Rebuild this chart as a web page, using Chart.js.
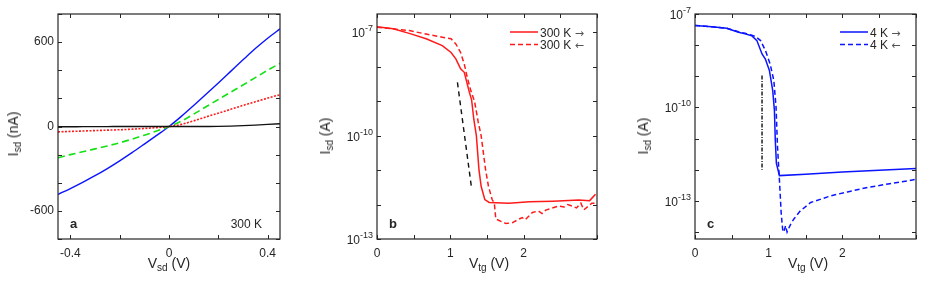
<!DOCTYPE html>
<html>
<head>
<meta charset="utf-8">
<script src="https://cdn.jsdelivr.net/npm/chart.js@4.4.1/dist/chart.umd.min.js"></script>
<style>
  body { margin: 0; background: #fff; font-family: "Liberation Sans", Arial, sans-serif; color: #262626; }
  #wrap { position: relative; width: 926px; height: 282px; overflow: hidden; }
  canvas { position: absolute; top: 0; }
  .xt { position: absolute; font-size: 14px; white-space: nowrap; transform: translateX(-50%); }
  .yt { position: absolute; font-size: 14px; white-space: nowrap; transform: translate(-50%, -50%) rotate(-90deg); }
  sub { font-size: 10px; vertical-align: -3px; line-height: 0; }
</style>
</head>
<body>
<div id="wrap">
  <canvas id="chartA" width="300" height="282" style="left:0"></canvas>
  <canvas id="chartB" width="300" height="282" style="left:310px"></canvas>
  <canvas id="chartC" width="306" height="282" style="left:620px"></canvas>

  <div class="yt" style="left:13px;top:134px">I<sub>sd</sub> (nA)</div>
  <div class="xt" style="left:169px;top:255px">V<sub>sd</sub> (V)</div>
  <div class="yt" style="left:325px;top:136px">I<sub>sd</sub> (A)</div>
  <div class="xt" style="left:489px;top:255px">V<sub>tg</sub> (V)</div>
  <div class="yt" style="left:643px;top:136px">I<sub>sd</sub> (A)</div>
  <div class="xt" style="left:808px;top:255px">V<sub>tg</sub> (V)</div>
</div>

<script>
// ---- panel a : I-V curves at 300 K (nA) ----
var aV     = [-0.45, -0.4, -0.35, -0.3, -0.25, -0.2, -0.15, -0.1, -0.05, 0, 0.05, 0.1, 0.15, 0.2, 0.25, 0.3, 0.35, 0.4, 0.45];
var aBlue  = [-483, -441, -397, -350, -299, -244, -186, -125, -63, 0, 72, 150, 230, 310, 392, 474, 554, 628, 694];
var aGreen = [-222, -200, -180, -159, -138, -116, -90, -62, -32, 0, 38, 88, 140, 192, 244, 295, 348, 400, 449];
var aRed   = [-38, -35, -32, -29, -26, -23, -19, -14, -8, 0, 15, 40, 68, 95, 122, 150, 176, 202, 226];
var aBlack = [-2, -2, -1, -1, -1, 0, 0, 0, 0, 0, 0, 0, 0, 1, 3, 6, 10, 15, 20];

var aXTicks  = [-0.4, -0.2, 0, 0.2, 0.4];
var aXLabels = ['-0.4', '', '0', '', '0.4'];
var aYTicks  = [-800, -600, -400, -200, 0, 200, 400, 600, 800];
var aYLabels = ['', '-600', '', '', '0', '', '', '600', ''];

// ---- panel b : transfer curves at 300 K (A) ----
var bFwdV = [0, 0.22, 0.44, 0.67, 0.89, 1.01, 1.075, 1.14, 1.19, 1.26, 1.29, 1.32, 1.355, 1.39, 1.42, 1.47, 1.53, 1.8, 2.08, 2.4, 2.75, 2.9, 2.98];
var bFwdI = [1.45e-7, 1.26e-7, 9.3e-8, 6.5e-8, 4.1e-8, 2.6e-8, 1.7e-8, 8.7e-9, 6.9e-9, 1.8e-9, 1.1e-9, 3.0e-10, 1.0e-10, 1.05e-11, 3.4e-12, 1.4e-12, 1.15e-12, 1.1e-12, 1.2e-12, 1.25e-12, 1.35e-12, 1.3e-12, 2.0e-12];
var bBwdV = [0, 0.22, 0.44, 0.67, 0.89, 1.01, 1.075, 1.14, 1.19, 1.23, 1.28, 1.33, 1.38, 1.42, 1.48, 1.52, 1.57, 1.6, 1.62, 1.76, 1.85, 1.94, 1.98, 2.02, 2.12, 2.2, 2.25, 2.3, 2.48, 2.55, 2.6, 2.66, 2.72, 2.78, 2.82, 2.93, 2.98];
var bBwdI = [1.4e-7, 1.26e-7, 1.12e-7, 8.9e-8, 7.2e-8, 6.5e-8, 4.6e-8, 2.6e-8, 1.2e-8, 5.0e-9, 2.0e-9, 1.0e-9, 2.5e-10, 1.0e-10, 1.05e-11, 3.4e-12, 1.4e-12, 1.1e-12, 3.8e-13, 2.8e-13, 3.0e-13, 3.8e-13, 4.2e-13, 3.6e-13, 5.9e-13, 6.5e-13, 5.5e-13, 6.9e-13, 9.1e-13, 8.5e-13, 1.0e-12, 9.1e-13, 8.0e-13, 1.1e-12, 7.0e-13, 1.1e-12, 1.1e-12];
var bRefV = [1.097, 1.287];
var bRefI = [3.5e-9, 3.3e-12];

// ---- panel c : transfer curves at 4 K (A) ----
var cFwdV = [0, 0.23, 0.43, 0.59, 0.68, 0.77, 0.84, 0.91, 0.955, 1.01, 1.055, 1.078, 1.09, 1.105, 1.146, 1.5, 2.0, 2.5, 3.0];
var cFwdI = [4.3e-8, 3.9e-8, 3.5e-8, 2.6e-8, 2.3e-8, 2.0e-8, 1.4e-8, 5.2e-9, 3.6e-9, 1.55e-9, 3.5e-10, 8.1e-11, 8.9e-12, 1.6e-12, 6.5e-13, 7.2e-13, 8.5e-13, 9.7e-13, 1.1e-12];
var cBwdV = [0, 0.23, 0.43, 0.59, 0.68, 0.77, 0.82, 0.89, 0.955, 1.02, 1.07, 1.1, 1.12, 1.146, 1.17, 1.19, 1.205, 1.23, 1.25, 1.27, 1.3, 1.34, 1.43, 1.57, 1.84, 2.07, 2.34, 2.62, 2.89, 3.0];
var cBwdI = [4.3e-8, 3.9e-8, 3.5e-8, 2.7e-8, 2.4e-8, 2.1e-8, 1.9e-8, 1.4e-8, 6.8e-9, 2.5e-9, 7.4e-10, 1.05e-10, 5.5e-12, 4.7e-13, 4.1e-14, 1.2e-14, 1.0e-14, 1.6e-14, 1.0e-14, 1.3e-14, 1.8e-14, 2.6e-14, 4.8e-14, 8.9e-14, 1.45e-13, 1.95e-13, 2.7e-13, 3.5e-13, 4.4e-13, 5.0e-13];
var cRefV = [0.91, 0.91];
var cRefI = [1.07e-9, 1.0e-12];

var gateTicks  = [0, 0.5, 1, 1.5, 2, 2.5, 3];
var gateLabels = ['0', '', '1', '', '2', '', ''];
var bYTicks  = [1e-13, 1e-12, 1e-11, 1e-10, 1e-9, 1e-8, 1e-7];
var bYLabels = ['10^-13', '', '', '10^-10', '', '', '10^-7'];
var cYTicks  = [1e-14, 1e-13, 1e-12, 1e-11, 1e-10, 1e-9, 1e-8, 1e-7];
var cYLabels = ['', '10^-13', '', '', '10^-10', '', '', '10^-7'];

var textColor = '#262626';
var fontName = '"Liberation Sans", Arial, sans-serif';
Chart.defaults.font.family = fontName;
Chart.defaults.font.size = 12;
Chart.defaults.color = textColor;

function pts(xs, ys) {
    return xs.map(function(x, i) { return { x: x, y: ys[i] }; });
}

function line(label, xs, ys, color, dash, width, smooth) {
    return {
        label: label,
        data: pts(xs, ys),
        borderColor: color,
        borderDash: dash || [],
        borderWidth: width || 1.4,
        pointRadius: 0,
        fill: false,
        cubicInterpolationMode: smooth ? 'monotone' : 'default',
        tension: 0
    };
}

// draws the MATLAB style box, inward ticks, power labels, panel letter and legend
var boxPlugin = {
    id: 'box',
    afterDatasetsDraw: function(chart, args, opts) {
        var ctx = chart.ctx, a = chart.chartArea;
        var xs = chart.scales.x, ys = chart.scales.y;
        ctx.save();

        ctx.strokeStyle = textColor;
        ctx.lineWidth = 1;
        ctx.setLineDash([]);
        ctx.beginPath();
        xs.ticks.forEach(function(t) {
            var px = Math.round(xs.getPixelForValue(t.value)) + 0.5;
            ctx.moveTo(px, a.bottom); ctx.lineTo(px, a.bottom - 4);
            ctx.moveTo(px, a.top); ctx.lineTo(px, a.top + 4);
        });
        ys.ticks.forEach(function(t) {
            var py = Math.round(ys.getPixelForValue(t.value)) + 0.5;
            ctx.moveTo(a.left, py); ctx.lineTo(a.left + 4, py);
            ctx.moveTo(a.right, py); ctx.lineTo(a.right - 4, py);
        });
        ctx.stroke();
        ctx.lineWidth = 1.2;
        ctx.strokeRect(a.left, a.top, a.right - a.left, a.bottom - a.top);

        ctx.fillStyle = textColor;
        ctx.textBaseline = 'alphabetic';

        // 10^n labels on log axes
        if (opts.powLabels) {
            ys.ticks.forEach(function(t, i) {
                var lab = opts.powLabels[i];
                if (!lab) return;
                var parts = lab.split('^');
                var py = ys.getPixelForValue(t.value);
                var xr = a.left - 4;
                ctx.textAlign = 'right';
                ctx.font = '9px ' + fontName;
                var ew = ctx.measureText(parts[1]).width;
                ctx.fillText(parts[1], xr, py - 1);
                ctx.font = '12px ' + fontName;
                ctx.fillText(parts[0], xr - ew, py + 5);
            });
        }

        if (opts.letter) {
            ctx.textAlign = 'left';
            ctx.font = 'bold 13px ' + fontName;
            ctx.fillText(opts.letter, a.left + 12, a.bottom - 11);
        }
        if (opts.note) {
            ctx.textAlign = 'right';
            ctx.font = '12px ' + fontName;
            ctx.fillText(opts.note, a.right - 18, a.bottom - 11);
        }

        if (opts.legend) {
            var row = 0;
            chart.data.datasets.forEach(function(ds) {
                if (!ds.label) return;
                var x0 = a.right - opts.legend.right;
                var y = a.top + opts.legend.top + row * 12.5;
                ctx.strokeStyle = ds.borderColor;
                ctx.lineWidth = ds.borderWidth;
                ctx.setLineDash(ds.borderDash);
                ctx.beginPath();
                ctx.moveTo(x0, y); ctx.lineTo(x0 + 28, y);
                ctx.stroke();
                // text part and arrow part (arrow from DejaVu, it is wider)
                var txt = ds.label.slice(0, -1), arrow = ds.label.slice(-1);
                ctx.textAlign = 'left';
                ctx.fillStyle = textColor;
                ctx.font = '12px ' + fontName;
                ctx.fillText(txt, x0 + 30, y + 4.5);
                var w = ctx.measureText(txt).width;
                ctx.fillStyle = '#555';
                ctx.font = '11px "DejaVu Sans"';
                ctx.fillText(arrow, x0 + 30 + w, y + 4.5);
                row++;
            });
        }
        ctx.restore();
    }
};

function axis(type, min, max, ticks, labels, size, showLabels, pad) {
    return {
        type: type,
        min: min,
        max: max,
        grid: { display: false, drawTicks: false },
        border: { display: false },
        ticks: {
            display: showLabels,
            padding: pad,
            autoSkip: false,
            maxRotation: 0,
            callback: function(v, i) { return labels[i]; }
        },
        afterBuildTicks: function(s) {
            s.ticks = ticks.map(function(v) { return { value: v }; });
        },
        afterFit: function(s) {
            if (s.isHorizontal()) s.height = size; else s.width = size;
        }
    };
}

function makeChart(id, datasets, xAxis, yAxis, pad, boxOpts) {
    return new Chart(document.getElementById(id), {
        type: 'line',
        data: { datasets: datasets },
        options: {
            responsive: false,
            animation: false,
            layout: { padding: pad },
            scales: { x: xAxis, y: yAxis },
            plugins: {
                legend: { display: false },
                tooltip: { enabled: false },
                box: boxOpts
            }
        },
        plugins: [boxPlugin]
    });
}

makeChart('chartA', [
        line('', aV, aBlack, '#111111', [], 1.4, true),
        line('', aV, aRed, '#ff1a1a', [2, 1.5], 1.6, true),
        line('', aV, aGreen, '#14e014', [7, 4], 1.6, true),
        line('', aV, aBlue, '#0a14ff', [], 1.4, true)
    ],
    axis('linear', -0.45, 0.45, aXTicks, aXLabels, 43, true, 7),
    axis('linear', -800, 800, aYTicks, aYLabels, 58, true, 4),
    { top: 14, right: 20, left: 0, bottom: 0 },
    { letter: 'a', note: '300 K' });

makeChart('chartB', [
        line('300 K \u2192', bFwdV, bFwdI, '#ff1a1a', [], 1.5),
        line('300 K \u2190', bBwdV, bBwdI, '#ff1a1a', [5, 3], 1.5),
        line('', bRefV, bRefI, '#111111', [5, 4], 1.4)
    ],
    axis('linear', 0, 3, gateTicks, gateLabels, 43, true, 7),
    axis('logarithmic', 1e-13, 3.4e-7, bYTicks, bYLabels, 67, false, 4),
    { top: 14, right: 13, left: 0, bottom: 0 },
    { letter: 'b', powLabels: bYLabels, legend: { right: 87, top: 18 } });

makeChart('chartC', [
        line('4 K \u2192', cFwdV, cFwdI, '#0a14ff', [], 1.5),
        line('4 K \u2190', cBwdV, cBwdI, '#0a14ff', [5, 3], 1.5),
        line('', cRefV, cRefI, '#111111', [4, 1.5, 1, 1.5], 1.4)
    ],
    axis('linear', 0, 3, gateTicks, gateLabels, 43, true, 7),
    axis('logarithmic', 6.3e-15, 1e-7, cYTicks, cYLabels, 75, false, 4),
    { top: 14, right: 10, left: 0, bottom: 0 },
    { letter: 'c', powLabels: cYLabels, legend: { right: 76, top: 18 } });
</script>
</body>
</html>
